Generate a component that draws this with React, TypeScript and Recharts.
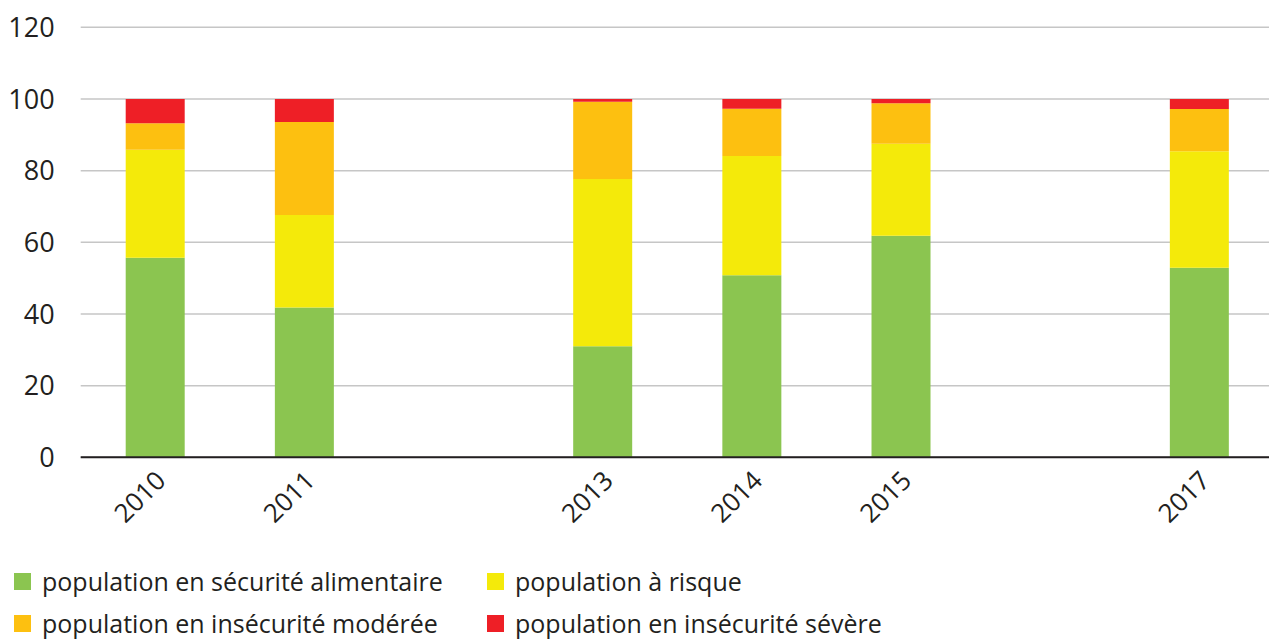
import { BarChart, Bar, XAxis, YAxis, CartesianGrid, Legend } from 'recharts'

// years on the axis; 2012 and 2016 have no survey
const years = ['2010', '2011', '2012', '2013', '2014', '2015', '2016', '2017']

const securite = [55.7, 41.8, null, 31.0, 50.8, 61.8, null, 52.9]
const risque = [30.1, 25.8, null, 46.7, 33.3, 25.7, null, 32.5]
const moderee = [7.4, 26.0, null, 21.5, 13.2, 11.3, null, 11.8]
const severe = [6.8, 6.4, null, 0.8, 2.7, 1.2, null, 2.8]

const yTicks = [0, 20, 40, 60, 80, 100, 120]

const series = [
  { key: 'securite', label: 'population en sécurité alimentaire', color: '#8bc550' },
  { key: 'risque', label: 'population à risque', color: '#f4ea0a' },
  { key: 'moderee', label: 'population en insécurité modérée', color: '#fdc010' },
  { key: 'severe', label: 'population en insécurité sévère', color: '#ee1f26' },
]

const data = years.map((year, i) => ({
  year,
  securite: securite[i],
  risque: risque[i],
  moderee: moderee[i],
  severe: severe[i],
}))

const FONT = '"Open Sans", sans-serif'
const INK = '#231f20'

function YearTick(props: any) {
  const { x, y, payload } = props
  // no label for years without a survey
  const i = years.indexOf(payload.value)
  if (securite[i] == null) return null
  return (
    <g transform={`translate(${x + 12},${y + 17})`}>
      <text x={0} y={0} textAnchor="end" transform="rotate(-45)" fontSize={26} fill={INK} fontFamily={FONT}>
        {payload.value}
      </text>
    </g>
  )
}

function LegendBox() {
  const cols = [14, 487]
  const rows = [4, 46]
  return (
    <div style={{ position: 'relative', width: 1269, height: 74, fontFamily: FONT, color: INK }}>
      {series.map((s, i) => (
        <div
          key={s.key}
          style={{
            position: 'absolute',
            left: cols[i % 2],
            top: rows[Math.floor(i / 2)],
            display: 'flex',
            alignItems: 'center',
            whiteSpace: 'nowrap',
          }}
        >
          <span style={{ width: 17, height: 17, background: s.color, display: 'inline-block', marginRight: 11 }} />
          <span style={{ fontSize: 25, lineHeight: '25px' }}>{s.label}</span>
        </div>
      ))}
    </div>
  )
}

export default function App() {
  return (
    <div style={{ position: 'fixed', left: 0, top: 0, width: 1269, height: 639, overflow: 'hidden', background: '#fff' }}>
      <BarChart width={1274} height={639} data={data} margin={{ top: 27.3, right: 0, bottom: 0, left: 0 }}>
        <CartesianGrid vertical={false} stroke="#c6c6c6" strokeWidth={1.5} />
        <XAxis
          dataKey="year"
          axisLine={{ stroke: INK, strokeWidth: 2 }}
          tickLine={false}
          interval={0}
          height={107.7}
          tick={<YearTick />}
        />
        <YAxis
          domain={[0, 120]}
          ticks={yTicks}
          axisLine={false}
          tickLine={false}
          width={80.7}
          tickMargin={20}
          tick={{ fontSize: 27, fill: INK, fontFamily: FONT }}
        />
        <Legend verticalAlign="bottom" height={74} content={<LegendBox />} wrapperStyle={{ left: 0 }} />
        {series.map(s => (
          <Bar key={s.key} dataKey={s.key} stackId="a" fill={s.color} barSize={59} isAnimationActive={false} />
        ))}
      </BarChart>
    </div>
  )
}
